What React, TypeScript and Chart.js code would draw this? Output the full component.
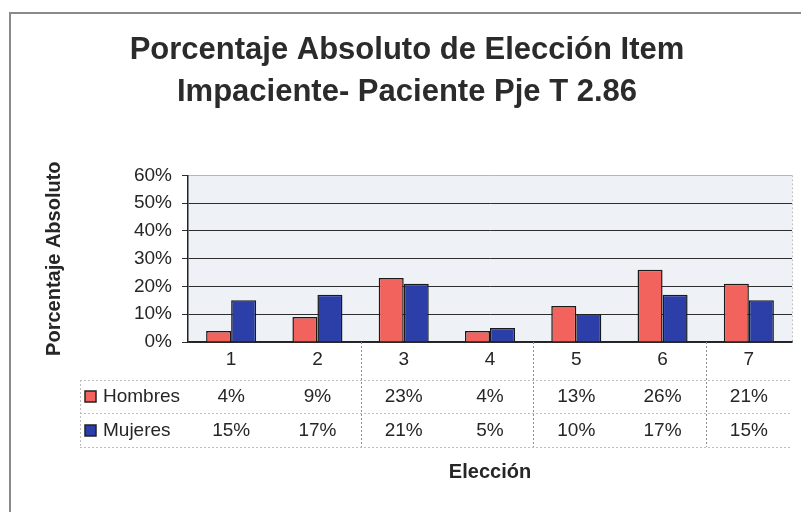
import React, { useEffect, useRef } from "react";
import { Chart, registerables } from "chart.js";

Chart.register(...registerables);

const titleLines = ["Porcentaje Absoluto de Elección Item", "Impaciente- Paciente Pje T 2.86"];
const categories = ["1", "2", "3", "4", "5", "6", "7"];
const hombres = [4, 9, 23, 4, 13, 26, 21];
const mujeres = [15, 17, 21, 5, 10, 17, 15];
const seriesNames = ["Hombres", "Mujeres"];
const yTitle = "Porcentaje Absoluto";
const xTitle = "Elección";

const FONT = "'Liberation Sans', Arial, sans-serif";
const RED = "#F2635E";
const BLUE = "#2C3EA8";
const TEXT = "#262626";

const framePlugin = {
  id: "framePlugin",
  beforeDraw(chart: any) {
    const { ctx, chartArea } = chart;
    ctx.save();
    ctx.fillStyle = "#ffffff";
    ctx.fillRect(0, 0, chart.width, chart.height);
    ctx.fillStyle = "#eef2f6";
    ctx.fillRect(chartArea.left, chartArea.top, chartArea.right - chartArea.left, chartArea.bottom - chartArea.top);
    ctx.strokeStyle = "#8a8a8a";
    ctx.lineWidth = 2;
    ctx.beginPath();
    ctx.moveTo(10, chart.height);
    ctx.lineTo(10, 13);
    ctx.lineTo(chart.width, 13);
    ctx.stroke();
    ctx.restore();
  },
  afterDraw(chart: any) {
    const { ctx, chartArea } = chart;
    const x = chart.scales.x;
    const b = chartArea.bottom;
    ctx.save();
    ctx.strokeStyle = "#c0c0c0";
    ctx.lineWidth = 1;
    ctx.setLineDash([2, 2]);
    ctx.beginPath();
    ctx.moveTo(chartArea.right + 0.5, chartArea.top);
    ctx.lineTo(chartArea.right + 0.5, b);
    ctx.stroke();

    const centers = categories.map((_, i) => x.getPixelForValue(i));
    const half = (centers[1] - centers[0]) / 2;
    const tableLeft = 80;
    const rowTop = b + 38;
    const rowMid = b + 71;
    const rowBot = b + 105;

    ctx.strokeStyle = "#bdbdbd";
    [rowTop, rowMid, rowBot].forEach((yy) => {
      ctx.beginPath();
      ctx.moveTo(tableLeft, yy + 0.5);
      ctx.lineTo(chartArea.right, yy + 0.5);
      ctx.stroke();
    });
    ctx.beginPath();
    ctx.moveTo(tableLeft + 0.5, rowTop);
    ctx.lineTo(tableLeft + 0.5, rowBot);
    ctx.stroke();

    ctx.strokeStyle = "#8c8c8c";
    [1, 3, 5].forEach((i) => {
      const xx = Math.round(centers[i] + half) + 0.5;
      ctx.beginPath();
      ctx.moveTo(xx, b);
      ctx.lineTo(xx, rowBot);
      ctx.stroke();
    });
    ctx.setLineDash([]);

    ctx.fillStyle = TEXT;
    ctx.font = `19px ${FONT}`;
    ctx.textAlign = "center";
    ctx.textBaseline = "middle";
    categories.forEach((c, i) => ctx.fillText(c, centers[i], b + 18));
    hombres.forEach((v, i) => ctx.fillText(v + "%", centers[i], b + 55));
    mujeres.forEach((v, i) => ctx.fillText(v + "%", centers[i], b + 89));

    const keys = [
      { name: seriesNames[0], color: RED, y: b + 55 },
      { name: seriesNames[1], color: BLUE, y: b + 89 },
    ];
    keys.forEach((k) => {
      ctx.fillStyle = k.color;
      ctx.fillRect(85, k.y - 6, 11, 11);
      ctx.strokeStyle = "#222";
      ctx.lineWidth = 1.5;
      ctx.strokeRect(85, k.y - 6, 11, 11);
      ctx.fillStyle = TEXT;
      ctx.textAlign = "left";
      ctx.fillText(k.name, 103, k.y);
    });
    ctx.restore();
  },
};

export default function App() {
  const ref = useRef<HTMLCanvasElement>(null);
  useEffect(() => {
    if (!ref.current) return;
    const chart = new Chart(ref.current, {
      type: "bar",
      data: {
        labels: categories,
        datasets: [
          {
            label: seriesNames[0],
            data: hombres,
            backgroundColor: RED,
            borderColor: "#1a1a1a",
            borderWidth: 1.5,
          },
          {
            label: seriesNames[1],
            data: mujeres,
            backgroundColor: BLUE,
            borderColor: "#1a1a1a",
            borderWidth: 1.5,
          },
        ],
      },
      options: {
        responsive: false,
        animation: false,
        devicePixelRatio: 1,
        layout: { padding: { left: 22, right: 9, top: 0, bottom: 0 } },
        datasets: { bar: { categoryPercentage: 0.58, barPercentage: 1.0 } },
        plugins: {
          legend: { display: false },
          tooltip: { enabled: false },
          title: {
            display: true,
            text: titleLines,
            color: "#2b2b2b",
            font: { family: FONT, size: 31, weight: "bold", lineHeight: 1.36 },
            padding: { top: 29, bottom: 62 },
          },
        },
        scales: {
          x: {
            grid: { display: false },
            border: { display: true, color: "#222", width: 1.5 },
            ticks: { display: false },
            title: {
              display: true,
              text: xTitle,
              color: TEXT,
              font: { family: FONT, size: 20, weight: "bold", lineHeight: 1.2 },
              padding: { top: 0, bottom: 28 },
            },
            afterFit: (scale: any) => {
              scale.height = 170;
            },
          },
          y: {
            min: 0,
            max: 60,
            ticks: {
              stepSize: 10,
              color: TEXT,
              padding: 10,
              font: { family: FONT, size: 19 },
              callback: (v: any) => v + "%",
            },
            grid: {
              color: (c: any) => (c.index === 6 ? "#b5b5b5" : "#2e2e2e"),
              lineWidth: 1,
              tickLength: 6,
              tickColor: "#2e2e2e",
            },
            border: { display: true, color: "#222", width: 1.5 },
            title: {
              display: true,
              text: yTitle,
              color: TEXT,
              font: { family: FONT, size: 20, weight: "bold", lineHeight: 1.2 },
              padding: { top: 20, bottom: 0 },
            },
            afterFit: (scale: any) => {
              scale.width = 166;
            },
          },
        },
      },
      plugins: [framePlugin],
    });
    return () => chart.destroy();
  }, []);
  return (
    <div style={{ position: "absolute", left: 0, top: 0, width: 801, height: 512 }}>
      <canvas ref={ref} width={801} height={512} />
    </div>
  );
}
